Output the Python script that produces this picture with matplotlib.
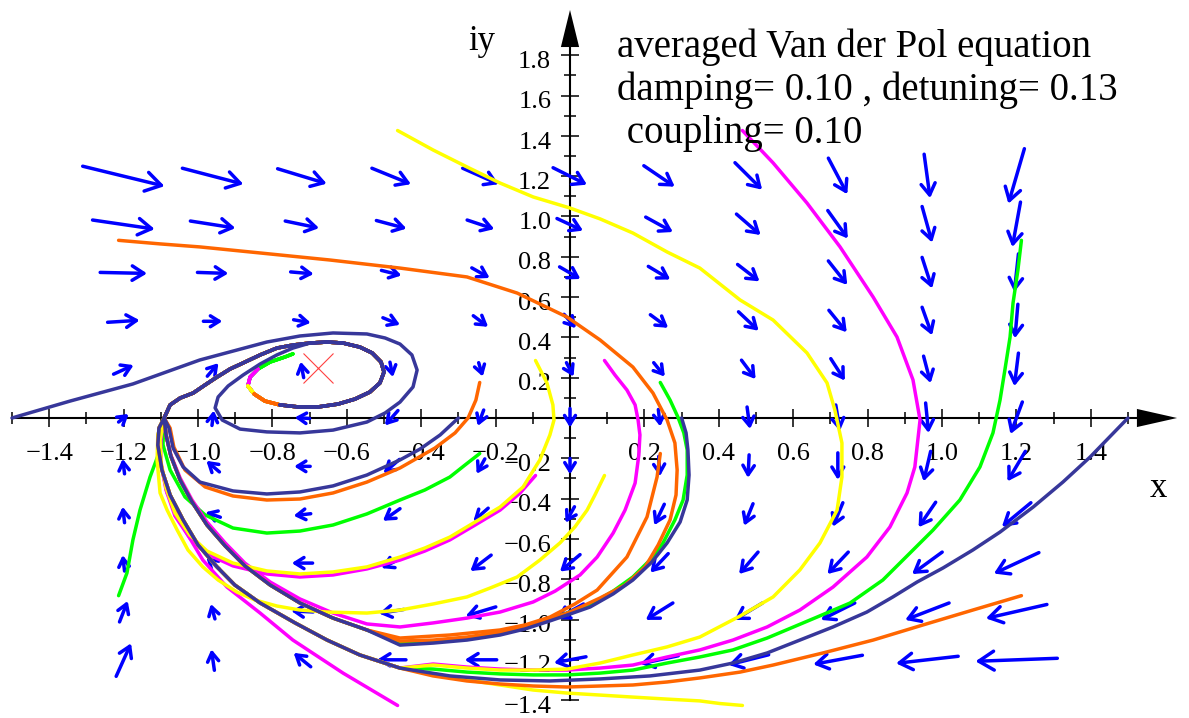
import numpy as np
import matplotlib
matplotlib.use("Agg")
import matplotlib.pyplot as plt
from matplotlib.ticker import FixedLocator, FuncFormatter
import matplotlib.transforms as mtransforms

plt.rcParams['font.family'] = ['Liberation Serif', 'DejaVu Serif']

# ---------------- texts ----------------
title_lines = ["averaged Van der Pol equation",
               "damping= 0.10 , detuning= 0.13",
               " coupling= 0.10"]
x_label = "x"
y_label = "iy"

# ---------------- ticks ----------------
x_major = [-1.4, -1.2, -1.0, -0.8, -0.6, -0.4, -0.2, 0.2, 0.4, 0.6, 0.8, 1.0, 1.2, 1.4]
x_minor = [-1.5, -1.3, -1.1, -0.9, -0.7, -0.5, -0.3, -0.1, 0.1, 0.3, 0.5, 0.7, 0.9, 1.1, 1.3, 1.5]
y_major = [-1.4, -1.2, -1.0, -0.8, -0.6, -0.4, -0.2, 0.2, 0.4, 0.6, 0.8, 1.0, 1.2, 1.4, 1.6, 1.8]
y_minor = [-1.3, -1.1, -0.9, -0.7, -0.5, -0.3, -0.1, 0.1, 0.3, 0.5, 0.7, 0.9, 1.1, 1.3, 1.5, 1.7]

# ---------------- direction field (arrow vectors) ----------------
grid_x = [-1.2, -0.96, -0.72, -0.48, -0.24, 0.0, 0.24, 0.48, 0.72, 0.96, 1.2]
grid_y = [1.2, 0.96, 0.72, 0.48, 0.24, 0.0, -0.24, -0.48, -0.72, -0.96, -1.2]
arrow_u = [
    [0.220, 0.164, 0.132, 0.105, 0.097, 0.091, 0.083, 0.073, 0.051, 0.016, -0.043],
    [0.167, 0.121, 0.091, 0.081, 0.073, 0.070, 0.073, 0.065, 0.054, 0.027, -0.022],
    [0.126, 0.083, 0.062, 0.054, 0.048, 0.056, 0.059, 0.059, 0.051, 0.027, -0.011],
    [0.086, 0.051, 0.046, 0.046, 0.040, 0.032, 0.048, 0.054, 0.048, 0.027, -0.008],
    [0.054, 0.030, -0.008, 0.008, 0.011, 0.019, 0.030, 0.038, 0.038, 0.019, -0.011],
    [0.027, 0.005, -0.040, -0.035, -0.016, 0.000, 0.005, 0.008, 0.011, 0.008, -0.032],
    [-0.005, -0.035, -0.043, -0.043, -0.022, 0.000, 0.003, -0.003, 0.000, -0.019, -0.048],
    [-0.005, -0.040, -0.046, -0.046, -0.040, -0.024, -0.027, -0.024, -0.027, -0.046, -0.078],
    [-0.005, -0.035, -0.056, -0.054, -0.056, -0.054, -0.048, -0.051, -0.056, -0.081, -0.121],
    [0.022, -0.011, -0.059, -0.067, -0.081, -0.073, -0.073, -0.075, -0.091, -0.118, -0.164],
    [0.040, -0.008, -0.046, -0.078, -0.086, -0.086, -0.102, -0.108, -0.132, -0.167, -0.220],
]
arrow_v = [
    [-0.099, -0.079, -0.074, -0.079, -0.079, -0.084, -0.104, -0.134, -0.179, -0.218, -0.273],
    [-0.045, -0.035, -0.035, -0.040, -0.045, -0.060, -0.074, -0.104, -0.139, -0.179, -0.223],
    [-0.005, -0.005, -0.010, -0.025, -0.050, -0.060, -0.065, -0.084, -0.119, -0.154, -0.189],
    [0.010, 0.000, -0.015, -0.035, -0.055, -0.069, -0.065, -0.094, -0.109, -0.139, -0.169],
    [0.045, 0.065, 0.079, -0.074, -0.069, -0.069, -0.069, -0.094, -0.109, -0.134, -0.164],
    [0.040, 0.074, 0.005, -0.074, -0.079, -0.094, -0.084, -0.109, -0.129, -0.149, -0.159],
    [0.074, 0.055, 0.000, -0.069, -0.074, -0.079, -0.099, -0.114, -0.134, -0.149, -0.149],
    [0.079, 0.025, -0.010, -0.060, -0.065, -0.079, -0.104, -0.109, -0.119, -0.124, -0.119],
    [0.079, 0.060, 0.000, -0.050, -0.079, -0.084, -0.094, -0.109, -0.109, -0.109, -0.104],
    [0.104, 0.074, 0.005, -0.020, -0.045, -0.074, -0.084, -0.084, -0.084, -0.084, -0.069],
    [0.164, 0.104, 0.069, 0.000, 0.000, -0.030, -0.040, -0.050, -0.045, -0.035, -0.015],
]

fixed_point_x = [-0.677]
fixed_point_y = [0.248]

# ---------------- trajectories ----------------
L_x = [-0.457, -0.565, -0.653, -0.739, -0.833, -0.901, -0.949, -1.000, -1.040, -1.075, -1.097, -1.108, -1.105]
L_y = [-1.241, -1.176, -1.102, -1.017, -0.918, -0.829, -0.739, -0.630, -0.506, -0.382, -0.258, -0.134, -0.050]
M_x = [-0.546, -0.637, -0.726, -0.806, -0.874, -0.927, -0.976, -1.016, -1.048, -1.073, -1.086]
M_y = [-1.052, -0.993, -0.918, -0.829, -0.734, -0.635, -0.531, -0.417, -0.308, -0.189, -0.084]
core_x = [-1.091, -1.075, -1.048, -1.013, -0.981, -0.949, -0.914, -0.879, -0.833, -0.788, -0.745,
          -0.699, -0.653, -0.610, -0.565, -0.532, -0.508, -0.500, -0.511, -0.538, -0.578, -0.624,
          -0.677, -0.731, -0.780, -0.820, -0.849, -0.866, -0.860, -0.839, -0.806, -0.766, -0.745]
core_y = [0.000, 0.065, 0.099, 0.124, 0.164, 0.203, 0.243, 0.273, 0.313, 0.347, 0.362,
          0.372, 0.377, 0.372, 0.352, 0.323, 0.278, 0.228, 0.174, 0.129, 0.094, 0.069,
          0.055, 0.055, 0.065, 0.084, 0.119, 0.159, 0.203, 0.243, 0.278, 0.303, 0.318]
core_end = {"navy": 24, "orange": 26, "yellow": 27, "magenta": 29, "green": 32}

O0_x = [1.500, 1.398, 1.325, 1.245, 1.156, 1.083, 1.003, 0.933, 0.868, 0.798, 0.707, 0.618, 0.530, 0.438, 0.349, 0.215, 0.081, -0.054, -0.188, -0.323]
O0_y = [0.000, -0.194, -0.318, -0.442, -0.566, -0.655, -0.744, -0.814, -0.888, -0.963, -1.037, -1.102, -1.166, -1.216, -1.251, -1.280, -1.295, -1.305, -1.300, -1.280]
O36_x = [1.2135, 1.204, 1.191, 1.183, 1.169, 1.156, 1.137, 1.102, 1.048, 0.976, 0.914, 0.841, 0.753, 0.664, 0.530, 0.438, 0.349, 0.261, 0.169, 0.081, -0.008, -0.099, -0.188, -0.277, -0.368]
O36_y = [0.8817, 0.734, 0.571, 0.402, 0.238, 0.089, -0.074, -0.243, -0.407, -0.556, -0.670, -0.804, -0.918, -0.988, -1.092, -1.151, -1.186, -1.216, -1.251, -1.266, -1.275, -1.275, -1.270, -1.261, -1.246]
O72_x = [0.4635, 0.546, 0.637, 0.726, 0.815, 0.879, 0.922, 0.941, 0.927, 0.906, 0.860, 0.798, 0.707, 0.618, 0.530, 0.438, 0.349, 0.261, 0.169, 0.081, -0.008, -0.099, -0.188, -0.277, -0.368]
O72_y = [1.4266, 1.266, 1.067, 0.849, 0.600, 0.402, 0.189, -0.010, -0.243, -0.372, -0.541, -0.690, -0.839, -0.953, -1.037, -1.102, -1.151, -1.186, -1.226, -1.241, -1.251, -1.251, -1.246, -1.236, -1.221]
O108_x = [-0.4635, -0.368, -0.277, -0.188, -0.099, 0.000, 0.081, 0.169, 0.261, 0.349, 0.457, 0.546, 0.637, 0.691, 0.712, 0.731, 0.731, 0.718, 0.672, 0.618, 0.546, 0.457, 0.349, 0.261, 0.169, 0.081, -0.008, -0.099, -0.188, -0.277, -0.368]
O108_y = [1.4266, 1.330, 1.246, 1.166, 1.097, 1.042, 0.988, 0.918, 0.824, 0.744, 0.586, 0.486, 0.323, 0.174, 0.040, -0.124, -0.293, -0.457, -0.620, -0.754, -0.888, -0.983, -1.087, -1.136, -1.176, -1.216, -1.246, -1.251, -1.251, -1.241, -1.226]
O144_x = [-1.2135, -1.102, -0.995, -0.833, -0.645, -0.457, -0.277, -0.142, -0.008, 0.081, 0.169, 0.223, 0.261, 0.282, 0.288, 0.285, 0.269, 0.237, 0.202, 0.148, 0.081, 0.000, -0.099, -0.188, -0.277, -0.368, -0.457]
O144_y = [0.8817, 0.864, 0.849, 0.819, 0.784, 0.744, 0.700, 0.620, 0.501, 0.387, 0.253, 0.124, -0.010, -0.124, -0.258, -0.382, -0.506, -0.630, -0.739, -0.829, -0.893, -0.963, -1.027, -1.062, -1.087, -1.102, -1.107]
O180_x = [-1.500, -1.344, -1.175, -0.995, -0.815, -0.726, -0.637, -0.546, -0.497, -0.457, -0.425, -0.411, -0.422, -0.457, -0.497, -0.546, -0.637, -0.726, -0.815, -0.887, -0.935, -0.954, -0.946, -0.919, -0.879, -0.833, -0.788, -0.745]
O180_y = [0.000, 0.084, 0.169, 0.288, 0.377, 0.407, 0.422, 0.417, 0.397, 0.367, 0.313, 0.238, 0.154, 0.079, 0.025, -0.020, -0.060, -0.074, -0.069, -0.055, -0.010, 0.050, 0.104, 0.159, 0.213, 0.268, 0.313, 0.347]
O216_x = [-1.2135, -1.191, -1.175, -1.156, -1.129, -1.102, -1.089]
O216_y = [-0.8817, -0.769, -0.605, -0.457, -0.293, -0.159, -0.069]
O252_x = [-0.4635, -0.610, -0.745, -0.833, -0.922, -0.987, -1.040, -1.083, -1.102, -1.099]
O252_y = [-1.4266, -1.266, -1.102, -0.968, -0.839, -0.705, -0.541, -0.372, -0.208, -0.084]
O288_x = [0.4635, 0.403, 0.349, 0.261, 0.169, 0.081, -0.008, -0.099, -0.188, -0.277, -0.368]
O288_y = [-1.4266, -1.417, -1.404, -1.395, -1.385, -1.375, -1.365, -1.350, -1.325, -1.300, -1.270]
O324_x = [1.2135, 1.083, 0.949, 0.815, 0.680, 0.546, 0.457, 0.349, 0.261, 0.169, 0.081, -0.008, -0.099, -0.188, -0.277, -0.368]
O324_y = [-0.8817, -0.953, -1.027, -1.102, -1.166, -1.226, -1.261, -1.290, -1.310, -1.325, -1.330, -1.335, -1.330, -1.320, -1.305, -1.280]

I0_x = [0.300, 0.312, 0.317, 0.320, 0.315, 0.296, 0.261, 0.220, 0.169, 0.116, 0.054, 0.000, -0.054, -0.121, -0.188, -0.277, -0.368, -0.457]
I0_y = [0.000, -0.074, -0.159, -0.283, -0.407, -0.516, -0.620, -0.715, -0.804, -0.873, -0.938, -0.973, -1.007, -1.047, -1.077, -1.102, -1.117, -1.127]
I36_x = [0.2427, 0.269, 0.290, 0.306, 0.315, 0.315, 0.304, 0.282, 0.250, 0.215, 0.169, 0.116, 0.062, 0.000, -0.054, -0.121, -0.188, -0.277, -0.368, -0.457]
I36_y = [0.1763, 0.089, 0.005, -0.074, -0.159, -0.283, -0.407, -0.506, -0.620, -0.705, -0.789, -0.859, -0.918, -0.963, -0.998, -1.037, -1.067, -1.092, -1.107, -1.117]
I72_x = [0.0927, 0.121, 0.153, 0.175, 0.183, 0.188, 0.185, 0.175, 0.148, 0.116, 0.073, 0.027, -0.040, -0.099, -0.188, -0.277, -0.368, -0.457, -0.546, -0.637, -0.726, -0.806, -0.874, -0.927, -0.976, -1.016, -1.048, -1.073, -1.086]
I72_y = [0.2853, 0.213, 0.139, 0.065, -0.010, -0.084, -0.184, -0.323, -0.457, -0.571, -0.690, -0.779, -0.859, -0.913, -0.963, -0.993, -1.017, -1.037, -1.022, -0.968, -0.898, -0.814, -0.720, -0.620, -0.516, -0.407, -0.298, -0.184, -0.084]
I108_x = [-0.0927, -0.062, -0.046, -0.043, -0.054, -0.081, -0.126, -0.188, -0.255, -0.323, -0.390, -0.457, -0.546, -0.637, -0.726, -0.815, -0.906, -0.976, -1.022, -1.062, -1.086, -1.099, -1.102]
I108_y = [0.2853, 0.174, 0.065, -0.010, -0.084, -0.208, -0.342, -0.442, -0.516, -0.591, -0.645, -0.690, -0.739, -0.764, -0.774, -0.759, -0.720, -0.660, -0.581, -0.471, -0.347, -0.223, -0.109]
I144_x = [-0.2427, -0.253, -0.274, -0.309, -0.363, -0.457, -0.546, -0.637, -0.726, -0.815, -0.906, -0.981, -1.035, -1.065, -1.075]
I144_y = [0.1763, 0.089, 0.000, -0.074, -0.149, -0.248, -0.318, -0.372, -0.402, -0.407, -0.387, -0.342, -0.258, -0.144, -0.050]
I180_x = [-0.300, -0.349, -0.403, -0.457, -0.546, -0.637, -0.726, -0.815, -0.906, -0.995, -1.040, -1.067, -1.078]
I180_y = [0.000, -0.084, -0.154, -0.208, -0.283, -0.337, -0.367, -0.377, -0.362, -0.318, -0.243, -0.149, -0.050]
I216_x = [-0.2427, -0.282, -0.323, -0.390, -0.457, -0.546, -0.637, -0.726, -0.815, -0.906, -0.981, -1.035, -1.075, -1.094, -1.094]
I216_y = [-0.1763, -0.233, -0.293, -0.357, -0.407, -0.476, -0.531, -0.561, -0.571, -0.546, -0.481, -0.392, -0.258, -0.134, -0.050]
I252_x = [-0.0927, -0.134, -0.188, -0.255, -0.323, -0.390, -0.457, -0.546, -0.637, -0.726, -0.815, -0.906, -0.976, -1.022, -1.062, -1.086, -1.099, -1.102]
I252_y = [-0.2853, -0.372, -0.457, -0.531, -0.605, -0.660, -0.705, -0.749, -0.779, -0.789, -0.774, -0.734, -0.675, -0.596, -0.486, -0.357, -0.228, -0.109]
I288_x = [0.0927, 0.067, 0.046, 0.013, -0.027, -0.081, -0.142, -0.215, -0.277, -0.368, -0.457, -0.546, -0.653, -0.726, -0.788, -0.847, -0.895, -0.946, -0.987, -1.027, -1.056, -1.083, -1.102, -1.110, -1.108]
I288_y = [-0.2853, -0.382, -0.457, -0.541, -0.620, -0.705, -0.789, -0.844, -0.888, -0.923, -0.953, -0.968, -0.963, -0.953, -0.933, -0.903, -0.864, -0.804, -0.739, -0.655, -0.556, -0.457, -0.372, -0.208, -0.084]
I324_x = [0.2427, 0.234, 0.207, 0.153, 0.073, 0.013, -0.054, -0.121, -0.188, -0.323, -0.457]
I324_y = [-0.1763, -0.293, -0.491, -0.690, -0.854, -0.923, -0.988, -1.027, -1.052, -1.077, -1.092]

colors = {"navy": "#37379a", "green": "#00ff00", "magenta": "#ff00ff",
          "yellow": "#ffff00", "orange": "#ff6600"}

trajectories = [
    (O0_x, O0_y, "L", 0, "navy"),
    (O36_x, O36_y, "L", 0, "green"),
    (O72_x, O72_y, "L", 0, "magenta"),
    (O108_x, O108_y, "L", 0, "yellow"),
    (O144_x, O144_y, "M", 0, "orange"),
    (O180_x, O180_y, None, 11, "navy"),
    (O216_x, O216_y, None, 0, "green"),
    (O252_x, O252_y, None, 0, "magenta"),
    (O288_x, O288_y, "L", 0, "yellow"),
    (O324_x, O324_y, "L", 0, "orange"),
    (I0_x, I0_y, "M", 0, "navy"),
    (I36_x, I36_y, "M", 0, "green"),
    (I72_x, I72_y, None, 0, "magenta"),
    (I108_x, I108_y, None, 0, "yellow"),
    (I144_x, I144_y, None, 0, "orange"),
    (I180_x, I180_y, None, 0, "navy"),
    (I216_x, I216_y, None, 0, "green"),
    (I252_x, I252_y, None, 0, "magenta"),
    (I288_x, I288_y, None, 0, "yellow"),
    (I324_x, I324_y, "M", 0, "orange"),
]

# ---------------- figure ----------------
W, H = 11.89, 7.18
fig = plt.figure(figsize=(W, H), dpi=100)
ax = fig.add_axes([0, 0, 1, 1])
ax.set_xlim(-1.5323, 1.6640)
ax.set_ylim(-1.4888, 2.0744)

for s in ("top", "right"):
    ax.spines[s].set_visible(False)
ax.spines["left"].set_position(("data", 0))
ax.spines["bottom"].set_position(("data", 0))
ax.spines["left"].set_bounds(-1.4, 1.85)
ax.spines["bottom"].set_bounds(-1.5, 1.53)
for s in ("left", "bottom"):
    ax.spines[s].set_linewidth(1.5)

fmt = FuncFormatter(lambda v, p: f"{v:.1f}".replace("-", "\u2212"))
ax.xaxis.set_major_locator(FixedLocator(x_major))
ax.xaxis.set_minor_locator(FixedLocator(x_minor))
ax.yaxis.set_major_locator(FixedLocator(y_major))
ax.yaxis.set_minor_locator(FixedLocator(y_minor))
ax.xaxis.set_major_formatter(fmt)
ax.yaxis.set_major_formatter(fmt)
ax.tick_params(which="major", direction="inout", length=13, width=1.1, labelsize=19)
ax.tick_params(which="minor", direction="inout", length=8, width=1.1)
ax.tick_params(axis="x", which="major", pad=11.5)
ax.tick_params(axis="y", which="major", pad=7)
off = mtransforms.ScaledTranslation(0, -3 / 72, fig.dpi_scale_trans)
for lab in ax.get_yticklabels():
    lab.set_transform(lab.get_transform() + off)

# axis arrow heads
ax.fill([1.524, 1.632, 1.524], [0.045, 0.0, -0.045], color="black", lw=0, zorder=2.6)
ax.fill([-0.0245, 0.0, 0.0245], [1.841, 2.025, 1.841], color="black", lw=0, zorder=2.6)

# direction field arrows
fig.canvas.draw()
for j, gy in enumerate(grid_y):
    for i, gx in enumerate(grid_x):
        u, v = arrow_u[j][i], arrow_v[j][i]
        tail = (gx - u / 2, gy - v / 2)
        head = (gx + u / 2, gy + v / 2)
        p0 = ax.transData.transform(tail)
        p1 = ax.transData.transform(head)
        lpx = float(np.hypot(*(p1 - p0)))
        h = (8 + 0.12 * lpx) * 0.72
        ax.annotate("", xy=head, xytext=tail, zorder=2.7,
                    arrowprops=dict(arrowstyle=f"->,head_length={0.85 * h:.2f},head_width={0.53 * h:.2f}",
                                    mutation_scale=1, color="#0000ff", lw=2.5,
                                    shrinkA=0, shrinkB=0, capstyle="round", joinstyle="round"))

# trajectories: coloured first, navy last
order = ["green", "magenta", "yellow", "orange", "navy"]
for cname in order:
    for tx, ty, join, cstart, col in trajectories:
        if col != cname:
            continue
        xs = list(tx)
        ys = list(ty)
        if join == "L":
            xs += L_x; ys += L_y
        elif join == "M":
            xs += M_x; ys += M_y
        end = core_end[col] + 1
        xs += core_x[cstart:end]
        ys += core_y[cstart:end]
        ax.plot(xs, ys, color=colors[col], lw=2.5, zorder=3,
                solid_joinstyle="round", solid_capstyle="round")

# fixed point marker
ax.plot(fixed_point_x, fixed_point_y, marker="x", ms=21, mew=0.8, color="#ff4040",
        ls="none", zorder=3.5)

# labels and title
ax.text(-0.274, 1.826, y_label, fontsize=25, ha="left", va="baseline")
ax.text(1.559, -0.392, x_label, fontsize=25, ha="left", va="baseline")
for line, yb in zip(title_lines, [1.792, 1.578, 1.365]):
    ax.text(0.126, yb, line, fontsize=28, ha="left", va="baseline")

fig.savefig("out.png", dpi=100, facecolor="white")
